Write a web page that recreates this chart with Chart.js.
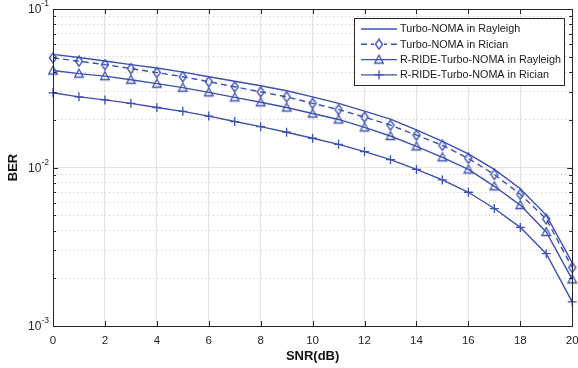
<!DOCTYPE html>
<html>
<head>
<meta charset="utf-8">
<script src="https://cdn.jsdelivr.net/npm/chart.js@4"></script>
<style>
  html, body { margin: 0; padding: 0; background: #fff; }
</style>
</head>
<body>
<canvas id="berChart" width="578" height="368"></canvas>
<script>
// SNR (dB) points
const snr = [0, 1, 2, 3, 4, 5, 6, 7, 8, 9, 10, 11, 12, 13, 14, 15, 16, 17, 18, 19, 20];

// BER values
const turboRayleigh = [0.0517, 0.0494, 0.0470, 0.0446, 0.0424, 0.0400, 0.0374, 0.0350, 0.0328, 0.0305, 0.0279,
                       0.0254, 0.0227, 0.0202, 0.0173, 0.01464, 0.01219, 0.00972, 0.00734, 0.00501, 0.00251];
const turboRician = [0.0492, 0.0468, 0.0446, 0.0421, 0.0397, 0.0374, 0.0348, 0.0323, 0.0300, 0.0279, 0.0254,
                     0.0232, 0.0208, 0.0185, 0.0160, 0.0138, 0.01141, 0.00904, 0.00678, 0.00473, 0.00234];
const rideRayleigh = [0.0409, 0.0391, 0.0377, 0.0358, 0.0338, 0.0319, 0.0298, 0.0277, 0.0258, 0.0239, 0.0219,
                      0.0201, 0.0179, 0.0158, 0.0136, 0.0116, 0.00972, 0.00761, 0.00579, 0.00392, 0.00197];
const rideRician = [0.0296, 0.0279, 0.0267, 0.0254, 0.0239, 0.0226, 0.0211, 0.0195, 0.0181, 0.0167, 0.0153,
                    0.0140, 0.0126, 0.0112, 0.00972, 0.00835, 0.00698, 0.00551, 0.00419, 0.00286, 0.00142];

const seriesNames = ['Turbo-NOMA in Rayleigh', 'Turbo-NOMA in Rician',
                     'R-RIDE-Turbo-NOMA in Rayleigh', 'R-RIDE-Turbo-NOMA in Rician'];

// axis ticks
const xTickStep = 2;
const yDecades = [-3, -2, -1];

const lineColor = 'rgb(60, 80, 178)';
const font = "'Liberation Sans', Arial, sans-serif";

function isDecade(v) {
    const e = Math.log10(v);
    return Math.abs(e - Math.round(e)) < 1e-6;
}

// hollow marker images (MATLAB style diamond / triangle)
function markerCanvas(kind) {
    const c = document.createElement('canvas');
    c.width = 12; c.height = 12;
    const g = c.getContext('2d');
    g.strokeStyle = lineColor;
    g.lineWidth = 1.3;
    g.beginPath();
    if (kind === 'diamond') {
        g.moveTo(6, 1); g.lineTo(9.6, 6); g.lineTo(6, 11); g.lineTo(2.4, 6);
    } else {
        g.moveTo(6, 1.5); g.lineTo(10.3, 9.5); g.lineTo(1.7, 9.5);
    }
    g.closePath();
    g.stroke();
    return c;
}
const diamondImg = markerCanvas('diamond');
const triangleImg = markerCanvas('triangle');

function makeSet(label, values, style, dash) {
    return {
        label: label,
        data: snr.map((x, i) => ({ x: x, y: values[i] })),
        borderColor: lineColor,
        backgroundColor: 'rgba(0,0,0,0)',
        borderWidth: 1.4,
        borderDash: dash || [],
        pointStyle: style || false,
        pointRadius: style ? 4.5 : 0,
        pointBorderWidth: 1.3,
        pointBorderColor: lineColor,
        pointBackgroundColor: 'rgba(0,0,0,0)',
        tension: 0,
        clip: false
    };
}

// box frame with inward ticks, plus y tick labels as 10^n
const framePlugin = {
    id: 'frame',
    afterDraw(chart) {
        const { ctx, chartArea: a, scales } = chart;
        ctx.save();
        ctx.strokeStyle = '#262626';
        ctx.lineWidth = 1;
        ctx.beginPath();
        scales.x.ticks.forEach(t => {
            const px = Math.round(scales.x.getPixelForValue(t.value)) + 0.5;
            ctx.moveTo(px, a.bottom); ctx.lineTo(px, a.bottom - 5);
            ctx.moveTo(px, a.top); ctx.lineTo(px, a.top + 5);
        });
        scales.y.ticks.forEach(t => {
            const py = Math.round(scales.y.getPixelForValue(t.value)) + 0.5;
            const len = isDecade(t.value) ? 5 : 3;
            ctx.moveTo(a.left, py); ctx.lineTo(a.left + len, py);
            ctx.moveTo(a.right, py); ctx.lineTo(a.right - len, py);
        });
        ctx.stroke();
        ctx.strokeRect(Math.round(a.left) + 0.5, Math.round(a.top) + 0.5,
            Math.round(a.right - a.left), Math.round(a.bottom - a.top));

        ctx.fillStyle = '#262626';
        ctx.textBaseline = 'middle';
        yDecades.forEach(e => {
            const py = scales.y.getPixelForValue(Math.pow(10, e));
            const sup = String(e);
            ctx.font = '8.5px ' + font;
            const supW = ctx.measureText(sup).width;
            ctx.textAlign = 'left';
            const right = a.left - 4;
            ctx.fillText(sup, right - supW, py - 5);
            ctx.font = '12px ' + font;
            ctx.textAlign = 'right';
            ctx.fillText('10', right - supW, py + 1);
        });
        ctx.restore();
    }
};

// legend with line samples and markers, like the original figure
const legendPlugin = {
    id: 'boxLegend',
    afterDraw(chart) {
        const ctx = chart.ctx;
        const bx = 354, by = 18, bw = 210, bh = 67;
        ctx.save();
        ctx.fillStyle = '#fff';
        ctx.fillRect(bx, by, bw, bh);
        ctx.strokeStyle = '#262626';
        ctx.lineWidth = 1;
        ctx.strokeRect(bx + 0.5, by + 0.5, bw, bh);
        chart.data.datasets.forEach((ds, i) => {
            const y = 29 + i * 15.3;
            ctx.strokeStyle = lineColor;
            ctx.lineWidth = 1.4;
            ctx.setLineDash(ds.borderDash);
            ctx.beginPath();
            ctx.moveTo(361, y); ctx.lineTo(397, y);
            ctx.stroke();
            ctx.setLineDash([]);
            const cx = 379, r = 4.5;
            if (ds.pointStyle instanceof HTMLCanvasElement) {
                ctx.fillStyle = '#fff';
                if (ds.pointStyle === diamondImg) {
                    ctx.fillRect(cx - 5, y - 5, 10, 10);
                }
                ctx.drawImage(ds.pointStyle, cx - 6, y - 6);
            } else if (ds.pointStyle === 'cross') {
                ctx.lineWidth = 1.3;
                ctx.beginPath();
                ctx.moveTo(cx, y - r); ctx.lineTo(cx, y + r);
                ctx.moveTo(cx - r, y); ctx.lineTo(cx + r, y);
                ctx.stroke();
            }
            ctx.fillStyle = '#1a1a1a';
            ctx.font = '10.8px ' + font;
            ctx.textBaseline = 'middle';
            ctx.textAlign = 'left';
            ctx.fillText(ds.label, 400, y + 0.5);
        });
        ctx.restore();
    }
};

const ctx = document.getElementById('berChart').getContext('2d');
new Chart(ctx, {
    type: 'line',
    data: {
        datasets: [
            makeSet(seriesNames[0], turboRayleigh),
            makeSet(seriesNames[1], turboRician, diamondImg, [6, 4]),
            makeSet(seriesNames[2], rideRayleigh, triangleImg),
            makeSet(seriesNames[3], rideRician, 'cross')
        ]
    },
    options: {
        responsive: false,
        animation: false,
        layout: { padding: { top: 9, right: 5, left: 0, bottom: 0 } },
        plugins: {
            legend: { display: false },
            tooltip: { enabled: false }
        },
        scales: {
            x: {
                type: 'linear',
                min: snr[0],
                max: snr[snr.length - 1],
                afterFit: s => { s.height = 42; s.paddingLeft = 0; s.paddingRight = 0; },
                ticks: {
                    stepSize: xTickStep,
                    padding: 8,
                    color: '#262626',
                    font: { family: font, size: 11.5 }
                },
                grid: { color: '#e3e3e3', lineWidth: 1, drawTicks: false },
                border: { display: false },
                title: {
                    display: true,
                    text: 'SNR(dB)',
                    color: '#111',
                    font: { family: font, size: 13, weight: 'bold' },
                    padding: { top: 0, bottom: 4 }
                }
            },
            y: {
                type: 'logarithmic',
                min: Math.pow(10, yDecades[0]),
                max: Math.pow(10, yDecades[yDecades.length - 1]),
                afterFit: s => { s.width = 53; s.paddingTop = 0; s.paddingBottom = 0; },
                afterBuildTicks: s => {
                    const ticks = [];
                    for (let k = 0; k < yDecades.length - 1; k++) {
                        for (let m = 1; m < 10; m++) {
                            ticks.push({ value: m * Math.pow(10, yDecades[k]) });
                        }
                    }
                    ticks.push({ value: Math.pow(10, yDecades[yDecades.length - 1]) });
                    s.ticks = ticks;
                },
                ticks: { display: false, autoSkip: false },
                grid: {
                    drawTicks: false,
                    color: c => (c.tick && isDecade(c.tick.value)) ? '#e3e3e3' : '#c8c8c8',
                    lineWidth: 1
                },
                border: {
                    display: false,
                    dash: c => (c.tick && !isDecade(c.tick.value)) ? [1, 3] : []
                },
                title: {
                    display: true,
                    text: 'BER',
                    color: '#111',
                    font: { family: font, size: 13, weight: 'bold' },
                    padding: { top: 6, bottom: 0 }
                }
            }
        }
    },
    plugins: [framePlugin, legendPlugin]
});
</script>
</body>
</html>
